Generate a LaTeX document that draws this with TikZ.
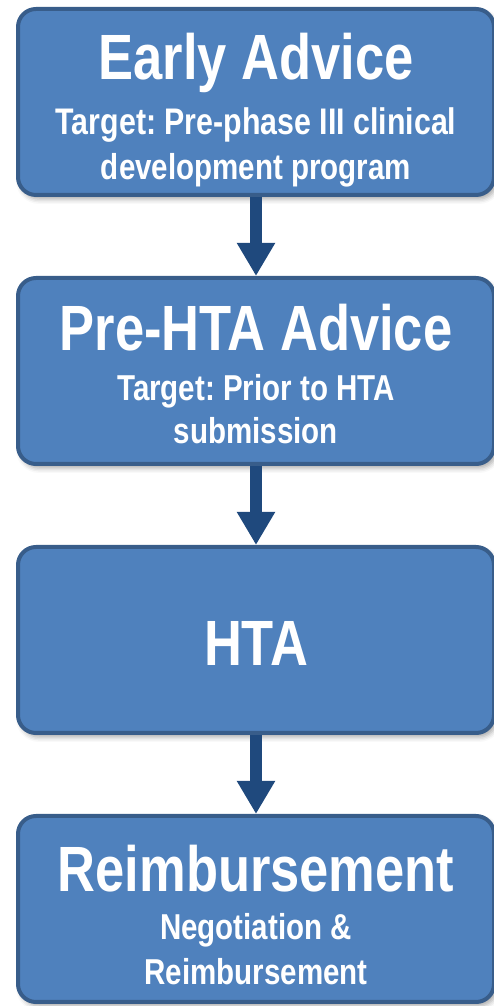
\documentclass[tikz,border=0pt]{standalone}
\usepackage{fontspec}
\setmainfont{Liberation Sans}[FakeStretch=0.82]
\usepackage{tikz}
\usetikzlibrary{positioning,arrows.meta,shadows.blur}
\definecolor{stagefill}{RGB}{79,129,189}
\definecolor{stageedge}{RGB}{56,93,138}
\definecolor{flowblue}{RGB}{31,73,125}
\frenchspacing
\newcommand{\stagetitle}[1]{{\fontsize{64}{64}\selectfont #1}}
\newcommand{\stagefont}{\fontsize{36}{45}\selectfont\bfseries\lineskiplimit=-100pt\relax}
\tikzstyle{stage}=[
        draw = stageedge,
        line width = 4pt,
        fill = stagefill,
        rounded corners = 18pt,
        minimum width = 476pt,
        minimum height = 186pt,
        inner sep = 0pt,
        text = white,
        align = center,
        font = \stagefont,
        blur shadow = {shadow xshift=3pt, shadow yshift=-4pt, shadow blur radius=5pt, shadow opacity=35}
    ]
\tikzstyle{flow}=[
    draw = flowblue,
    line width = 12pt,
    -{Triangle[width=36pt, length=33pt]}
]
\begin{document}
\begin{tikzpicture}[x=1pt, y=1pt, node distance={269pt}]
        \useasboundingbox (0,0) rectangle (494,1006);
        \node[stage, text height=164pt, text depth=8pt] (early) at (256,904)
            {\stagetitle{Early Advice}\\[10pt]\fontsize{37}{45}\selectfont Target: Pre-phase III clinical\\ development program};
        \node[stage, text height=153pt, text depth=8pt] (prehta) [below of = early]
            {\stagetitle{Pre-HTA Advice}\\[5pt]Target: Prior to HTA\\[-2pt]submission};
        \node[stage, text height=51pt, text depth=0pt] (hta) [below of = prehta] {\stagetitle{HTA}};
        \node[stage, text height=160pt, text depth=8pt] (reimb) [below of = hta]
            {\stagetitle{Reimbursement}\\[3pt]Negotiation \&\\ Reimbursement};

        \draw[flow] (early) -- (prehta);
        \draw[flow] (prehta) -- (hta);
        \draw[flow] (hta) -- (reimb);

    \end{tikzpicture}
\end{document}
